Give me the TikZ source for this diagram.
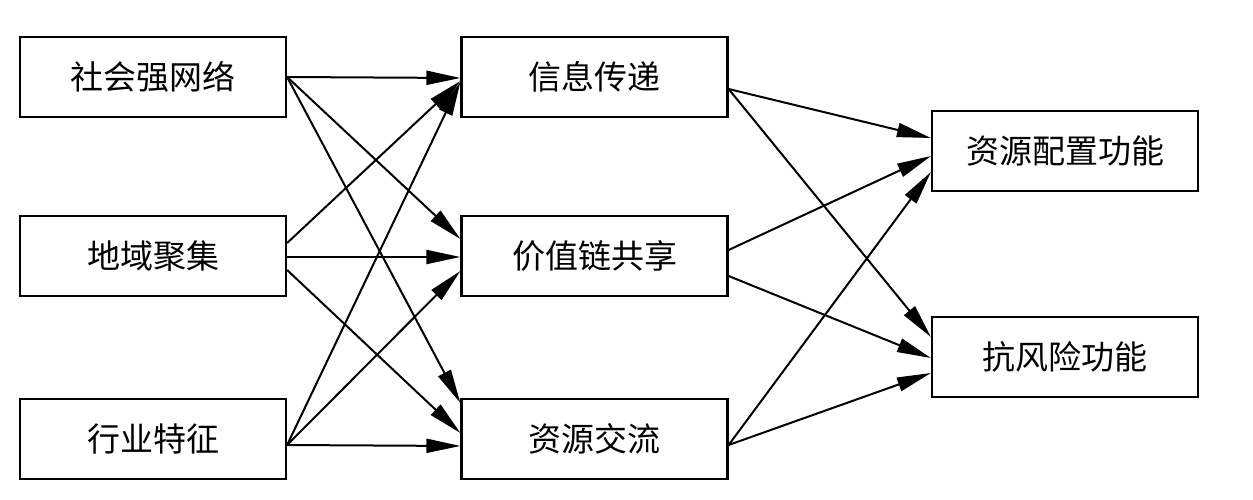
\documentclass[tikz,border=0pt]{standalone}
\usepackage{fontspec}
\newfontfamily\cjk{Noto Sans CJK SC}
\usetikzlibrary{arrows.meta,calc}
\begin{document}
\begin{tikzpicture}[x=1pt,y=-1pt,
  box/.style={draw, line width=2.2pt, minimum width=266pt, minimum height=80pt, inner sep=0pt, font=\cjk\fontsize{33}{33}\selectfont},
  arr/.style={line width=2pt, -{Triangle[length=34pt,width=14pt]}}]
\useasboundingbox (0,0) rectangle (1253,500);
\node[box] (s1) at (153,77) {社会强网络};
\node[box] (s2) at (153,256) {地域聚集};
\node[box] (s3) at (153,439) {行业特征};
\node[box] (m1) at (594.5,77) {信息传递};
\node[box] (m2) at (594.5,256) {价值链共享};
\node[box] (m3) at (594.5,439) {资源交流};
\node[box] (r1) at (1065,151) {资源配置功能};
\node[box] (r2) at (1065,357) {抗风险功能};
% left to middle
\draw[arr] (s1.east) -- ($(m1.west)+(0,1)$);
\draw[arr] (s1.east) -- ($(m2.west)+(0,-17)$);
\draw[arr] (s1.east) -- ($(m3.west)+(0,-36)$);
\draw[arr] ($(s2.east)+(0,-13)$) -- ($(m1.west)+(0,4)$);
\draw[arr] ($(s2.east)+(0,1)$) -- ($(m2.west)+(0,1)$);
\draw[arr] ($(s2.east)+(0,14)$) -- ($(m3.west)+(0,-6)$);
\draw[arr] ($(s3.east)+(0,6)$) -- ($(m1.west)+(0,5)$);
\draw[arr] ($(s3.east)+(0,6)$) -- ($(m2.west)+(0,15)$);
\draw[arr] ($(s3.east)+(0,6)$) -- ($(m3.west)+(0,7)$);
% middle to right
\draw[arr] ($(m1.east)+(0,12)$) -- ($(r1.west)+(0,-13)$);
\draw[arr] ($(m1.east)+(0,12)$) -- ($(r2.west)+(0,-20)$);
\draw[arr] ($(m2.east)+(0,-6)$) -- ($(r1.west)+(0,5)$);
\draw[arr] ($(m2.east)+(0,20)$) -- ($(r2.west)+(0,1)$);
\draw[arr] ($(m3.east)+(0,6)$) -- ($(r1.west)+(0,21)$);
\draw[arr] ($(m3.east)+(0,6)$) -- ($(r2.west)+(0,16)$);
\end{tikzpicture}
\end{document}
